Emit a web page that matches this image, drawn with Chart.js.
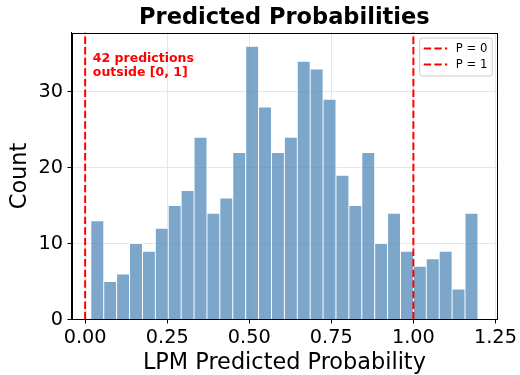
<!DOCTYPE html>
<html>
<head>
<meta charset="utf-8">
<script src="https://cdn.jsdelivr.net/npm/chart.js@4.4.1/dist/chart.umd.min.js"></script>
<style>
  html, body { margin: 0; padding: 0; background: #ffffff; }
  canvas { display: block; }
</style>
</head>
<body>
<canvas id="chart" width="520" height="375"></canvas>
<script>
// Histogram of LPM predicted probabilities (30 equal-width bins)
const binCounts = [13, 5, 6, 10, 9, 12, 15, 17, 24, 14, 16, 22, 36, 28, 22,
                   24, 34, 33, 29, 19, 15, 22, 10, 14, 9, 7, 8, 9, 4, 14];
const binRange = [0.0174, 1.1966];          // min / max predicted value
const boundaryValues = [0, 1];              // probability bounds
const boundaryLabels = ['P = 0', 'P = 1'];
const xTickValues = [0, 0.25, 0.5, 0.75, 1.0, 1.25];
const yTickValues = [0, 10, 20, 30];

const FONT = "'DejaVu Sans', 'Liberation Sans', sans-serif";
const RED = '#ff0000';

const binWidth = (binRange[1] - binRange[0]) / binCounts.length;
const binCenters = binCounts.map((_, i) => binRange[0] + (i + 0.5) * binWidth);
const histPoints = binCounts.map((c, i) => ({ x: binCenters[i], y: c }));

// number of predictions falling outside [0, 1]
const outsideCount = binCounts.reduce((s, c, i) =>
  (binCenters[i] > 1 || binCenters[i] < 0) ? s + c : s, 0);

// view limits: 5% margin on x, 5% headroom on y
const dataSpan = binRange[1] - binRange[0];
const xMin = binRange[0] - 0.05 * dataSpan;
const xMax = binRange[1] + 0.05 * dataSpan;
const yMax = Math.max(...binCounts) * 1.05;

const boundaryDatasets = boundaryValues.map((v, i) => ({
  type: 'line',
  label: boundaryLabels[i],
  data: [{ x: v, y: 0 }, { x: v, y: yMax }],
  borderColor: RED,
  borderWidth: 2,
  borderDash: [7.4, 3.2],
  pointRadius: 0,
  fill: false,
  order: 0
}));

// title, frame, annotation and in-axes legend
const decorations = {
  id: 'decorations',
  afterDatasetsDraw(chart) {
    const { ctx, chartArea: a } = chart;
    ctx.save();
    // full frame around the axes
    ctx.strokeStyle = '#000000';
    ctx.lineWidth = 1;
    ctx.strokeRect(Math.round(a.left) + 0.5, Math.round(a.top) + 0.5,
                   Math.round(a.right - a.left) - 1, Math.round(a.bottom - a.top) - 1);

    // title
    ctx.fillStyle = '#000000';
    ctx.font = `bold 22.5px ${FONT}`;
    ctx.textAlign = 'center';
    ctx.textBaseline = 'alphabetic';
    ctx.fillText('Predicted Probabilities', (a.left + a.right) / 2, 24);

    // annotation
    ctx.fillStyle = RED;
    ctx.font = `bold 12.5px ${FONT}`;
    ctx.textAlign = 'left';
    const ax = a.left + 0.05 * (a.right - a.left);
    ctx.fillText(`${outsideCount} predictions`, ax, a.top + 29.2);
    ctx.fillText('outside [0, 1]', ax, a.top + 43.5);

    // legend
    const fs = 11.7;
    const bx = a.right - 78, by = a.top + 5, bw = 72.5, bh = 38;
    ctx.beginPath();
    if (ctx.roundRect) ctx.roundRect(bx + 0.5, by + 0.5, bw, bh, 2.5);
    else ctx.rect(bx + 0.5, by + 0.5, bw, bh);
    ctx.fillStyle = 'rgba(255,255,255,0.8)';
    ctx.fill();
    ctx.strokeStyle = '#cccccc';
    ctx.lineWidth = 1;
    ctx.stroke();
    ctx.font = `${fs}px ${FONT}`;
    ctx.textBaseline = 'middle';
    boundaryDatasets.forEach((ds, i) => {
      const cy = by + 11 + i * 16;
      ctx.beginPath();
      ctx.setLineDash(ds.borderDash);
      ctx.strokeStyle = ds.borderColor;
      ctx.lineWidth = ds.borderWidth;
      ctx.moveTo(bx + 4.5, cy);
      ctx.lineTo(bx + 28, cy);
      ctx.stroke();
      ctx.setLineDash([]);
      ctx.fillStyle = '#000000';
      ctx.fillText(ds.label, bx + 36.5, cy + 0.5);
    });
    ctx.restore();
  }
};

new Chart(document.getElementById('chart'), {
  type: 'bar',
  data: {
    datasets: [
      ...boundaryDatasets,
      {
        type: 'bar',
        label: 'Predictions',
        data: histPoints,
        backgroundColor: 'rgba(70,130,180,0.7)',
        borderColor: '#ffffff',
        borderWidth: 0.8,
        borderSkipped: 'start',
        barPercentage: 1,
        categoryPercentage: 1,
        grouped: false,
        order: 1
      }
    ]
  },
  options: {
    responsive: false,
    animation: false,
    events: [],
    layout: { padding: { top: 32.5, right: 22, left: 0, bottom: 0 } },
    plugins: {
      legend: { display: false },
      title: { display: false },
      tooltip: { enabled: false }
    },
    scales: {
      x: {
        type: 'linear',
        min: xMin,
        max: xMax,
        offset: false,
        afterBuildTicks(scale) { scale.ticks = xTickValues.map(v => ({ value: v })); },
        afterFit(scale) { scale.height = 55.5; },
        ticks: {
          color: '#000000',
          font: { family: FONT, size: 19.3 },
          padding: 3,
          maxRotation: 0,
          autoSkip: false,
          callback: v => Number(v).toFixed(2)
        },
        grid: {
          offset: false,
          color: '#e6e6e6',
          lineWidth: 1,
          tickColor: '#000000',
          tickLength: 4,
          drawTicks: true
        },
        border: { display: true, color: '#000000', width: 1 },
        title: {
          display: true,
          text: 'LPM Predicted Probability',
          color: '#000000',
          font: { family: FONT, size: 22.4, lineHeight: 1 },
          padding: { top: 0, bottom: 1 }
        }
      },
      y: {
        type: 'linear',
        min: 0,
        max: yMax,
        afterBuildTicks(scale) { scale.ticks = yTickValues.map(v => ({ value: v })); },
        afterFit(scale) { scale.width = 71.5; },
        ticks: {
          color: '#000000',
          font: { family: FONT, size: 19.3 },
          padding: 4.5,
          autoSkip: false,
          callback: v => String(v)
        },
        grid: {
          color: '#e6e6e6',
          lineWidth: 1,
          tickColor: '#000000',
          tickLength: 4,
          drawTicks: true
        },
        border: { display: true, color: '#000000', width: 1 },
        title: {
          display: true,
          text: 'Count',
          color: '#000000',
          font: { family: FONT, size: 22.4, lineHeight: 1 },
          padding: { top: 9.3, bottom: 0 }
        }
      }
    }
  },
  plugins: [decorations]
});
</script>
</body>
</html>
